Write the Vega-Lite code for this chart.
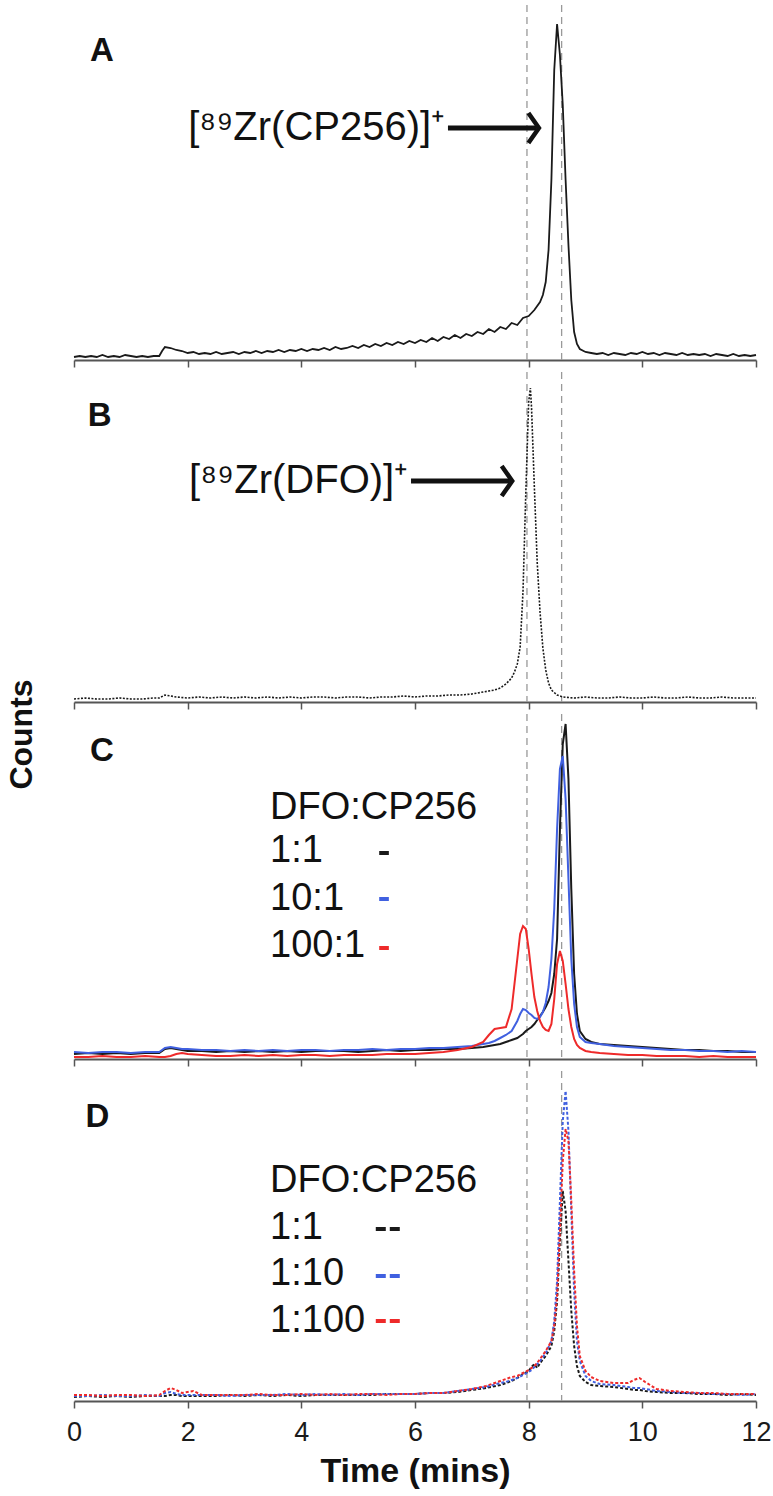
{
 "$schema": "https://vega.github.io/schema/vega-lite/v6.json",
 "padding": {"left": 5, "top": 4, "right": 5, "bottom": 5},
 "autosize": {"type": "pad"},
 "bounds": "flush",
 "spacing": 12,
 "background": "white",
 "resolve": {"scale": {"color": "independent", "y": "independent"}},
 "config": {"view": {"stroke": null}, "axis": {"grid": false}},
 "datasets": {
  "dash": [{"t": 7.97}, {"t": 8.58}],
  "A": [{"t":0,"v":3},{"t":0.1,"v":4},{"t":0.2,"v":3},{"t":0.3,"v":4},{"t":0.4,"v":3},{"t":0.5,"v":5},{"t":0.6,"v":3},{"t":0.7,"v":4},{"t":0.8,"v":3},{"t":0.9,"v":5},{"t":1.0,"v":4},{"t":1.1,"v":3},{"t":1.2,"v":4},{"t":1.3,"v":3},{"t":1.4,"v":4},{"t":1.5,"v":4},{"t":1.55,"v":9},{"t":1.6,"v":13},{"t":1.7,"v":12},{"t":1.8,"v":10},{"t":1.9,"v":9},{"t":2.0,"v":7},{"t":2.1,"v":8},{"t":2.2,"v":6},{"t":2.3,"v":7},{"t":2.4,"v":6},{"t":2.5,"v":8},{"t":2.6,"v":6},{"t":2.7,"v":7},{"t":2.8,"v":8},{"t":2.9,"v":6},{"t":3.0,"v":8},{"t":3.1,"v":7},{"t":3.2,"v":9},{"t":3.3,"v":7},{"t":3.4,"v":9},{"t":3.5,"v":8},{"t":3.6,"v":10},{"t":3.7,"v":8},{"t":3.8,"v":10},{"t":3.9,"v":9},{"t":4.0,"v":11},{"t":4.1,"v":9},{"t":4.2,"v":11},{"t":4.3,"v":10},{"t":4.4,"v":12},{"t":4.5,"v":10},{"t":4.6,"v":13},{"t":4.7,"v":11},{"t":4.8,"v":12},{"t":4.9,"v":14},{"t":5.0,"v":12},{"t":5.1,"v":15},{"t":5.2,"v":13},{"t":5.3,"v":16},{"t":5.4,"v":14},{"t":5.5,"v":17},{"t":5.6,"v":15},{"t":5.7,"v":18},{"t":5.8,"v":16},{"t":5.9,"v":19},{"t":6.0,"v":17},{"t":6.1,"v":20},{"t":6.2,"v":18},{"t":6.3,"v":22},{"t":6.4,"v":19},{"t":6.5,"v":23},{"t":6.6,"v":21},{"t":6.7,"v":25},{"t":6.8,"v":22},{"t":6.9,"v":26},{"t":7.0,"v":24},{"t":7.1,"v":28},{"t":7.2,"v":26},{"t":7.3,"v":31},{"t":7.4,"v":28},{"t":7.5,"v":33},{"t":7.6,"v":31},{"t":7.7,"v":37},{"t":7.8,"v":35},{"t":7.9,"v":42},{"t":8.0,"v":44},{"t":8.1,"v":50},{"t":8.2,"v":58},{"t":8.25,"v":65},{"t":8.3,"v":78},{"t":8.35,"v":110},{"t":8.4,"v":180},{"t":8.45,"v":290},{"t":8.5,"v":336},{"t":8.55,"v":305},{"t":8.6,"v":255},{"t":8.65,"v":180},{"t":8.7,"v":115},{"t":8.75,"v":60},{"t":8.8,"v":28},{"t":8.85,"v":16},{"t":8.9,"v":11},{"t":9.0,"v":8},{"t":9.1,"v":7},{"t":9.2,"v":6},{"t":9.3,"v":7},{"t":9.4,"v":5},{"t":9.5,"v":7},{"t":9.6,"v":6},{"t":9.7,"v":5},{"t":9.8,"v":7},{"t":9.9,"v":6},{"t":10.0,"v":8},{"t":10.1,"v":6},{"t":10.2,"v":7},{"t":10.3,"v":5},{"t":10.4,"v":7},{"t":10.5,"v":6},{"t":10.6,"v":5},{"t":10.7,"v":7},{"t":10.8,"v":5},{"t":10.9,"v":6},{"t":11.0,"v":5},{"t":11.1,"v":6},{"t":11.2,"v":4},{"t":11.3,"v":6},{"t":11.4,"v":5},{"t":11.5,"v":4},{"t":11.6,"v":6},{"t":11.7,"v":4},{"t":11.8,"v":5},{"t":11.9,"v":4},{"t":12.0,"v":5}],
  "B": [{"t":0,"v":3},{"t":0.2,"v":4},{"t":0.4,"v":3},{"t":0.6,"v":3},{"t":0.8,"v":4},{"t":1.0,"v":3},{"t":1.2,"v":3},{"t":1.4,"v":4},{"t":1.5,"v":4},{"t":1.6,"v":7},{"t":1.7,"v":6},{"t":1.8,"v":5},{"t":2.0,"v":4},{"t":2.2,"v":5},{"t":2.4,"v":4},{"t":2.6,"v":5},{"t":2.8,"v":4},{"t":3.0,"v":5},{"t":3.2,"v":4},{"t":3.4,"v":5},{"t":3.6,"v":4},{"t":3.8,"v":5},{"t":4.0,"v":4},{"t":4.2,"v":5},{"t":4.4,"v":5},{"t":4.6,"v":4},{"t":4.8,"v":5},{"t":5.0,"v":5},{"t":5.2,"v":4},{"t":5.4,"v":5},{"t":5.6,"v":5},{"t":5.8,"v":6},{"t":6.0,"v":5},{"t":6.2,"v":6},{"t":6.4,"v":6},{"t":6.6,"v":7},{"t":6.8,"v":7},{"t":7.0,"v":8},{"t":7.2,"v":10},{"t":7.4,"v":12},{"t":7.5,"v":14},{"t":7.6,"v":18},{"t":7.7,"v":24},{"t":7.75,"v":30},{"t":7.8,"v":38},{"t":7.85,"v":55},{"t":7.9,"v":110},{"t":7.95,"v":210},{"t":8.0,"v":300},{"t":8.03,"v":314},{"t":8.05,"v":295},{"t":8.1,"v":215},{"t":8.15,"v":140},{"t":8.2,"v":90},{"t":8.25,"v":54},{"t":8.3,"v":32},{"t":8.35,"v":19},{"t":8.4,"v":12},{"t":8.5,"v":7},{"t":8.6,"v":5},{"t":8.8,"v":4},{"t":9.0,"v":5},{"t":9.2,"v":4},{"t":9.4,"v":4},{"t":9.6,"v":5},{"t":9.8,"v":4},{"t":10.0,"v":4},{"t":10.2,"v":5},{"t":10.4,"v":4},{"t":10.6,"v":4},{"t":10.8,"v":5},{"t":11.0,"v":4},{"t":11.2,"v":4},{"t":11.4,"v":5},{"t":11.6,"v":4},{"t":11.8,"v":4},{"t":12.0,"v":4}],
  "C": [{"t":0,"k":5,"b":7,"r":2},{"t":0.25,"k":6,"b":6,"r":2},{"t":0.5,"k":5,"b":7,"r":3},{"t":0.75,"k":6,"b":7,"r":2},{"t":1.0,"k":5,"b":6,"r":2},{"t":1.25,"k":6,"b":7,"r":3},{"t":1.5,"k":6,"b":7,"r":2},{"t":1.6,"k":10,"b":11,"r":2},{"t":1.7,"k":11,"b":12,"r":3},{"t":1.8,"k":10,"b":11,"r":5},{"t":1.9,"k":9,"b":10,"r":6},{"t":2.0,"k":8,"b":10,"r":5},{"t":2.25,"k":8,"b":9,"r":4},{"t":2.5,"k":7,"b":9,"r":3},{"t":2.75,"k":8,"b":8,"r":3},{"t":3.0,"k":7,"b":9,"r":4},{"t":3.25,"k":8,"b":8,"r":3},{"t":3.5,"k":7,"b":9,"r":4},{"t":3.75,"k":8,"b":8,"r":3},{"t":4.0,"k":7,"b":9,"r":4},{"t":4.25,"k":8,"b":9,"r":4},{"t":4.5,"k":8,"b":8,"r":3},{"t":4.75,"k":8,"b":9,"r":4},{"t":5.0,"k":7,"b":9,"r":4},{"t":5.25,"k":8,"b":10,"r":4},{"t":5.5,"k":9,"b":9,"r":5},{"t":5.75,"k":8,"b":10,"r":5},{"t":6.0,"k":9,"b":10,"r":5},{"t":6.25,"k":9,"b":11,"r":6},{"t":6.5,"k":10,"b":11,"r":7},{"t":6.75,"k":10,"b":12,"r":9},{"t":7.0,"k":11,"b":13,"r":12},{"t":7.2,"k":12,"b":15,"r":17},{"t":7.3,"k":13,"b":16,"r":24},{"t":7.4,"k":14,"b":18,"r":30},{"t":7.5,"k":15,"b":21,"r":31},{"t":7.6,"k":17,"b":24,"r":32},{"t":7.7,"k":19,"b":28,"r":50},{"t":7.8,"k":21,"b":38,"r":100},{"t":7.85,"k":23,"b":45,"r":125},{"t":7.9,"k":25,"b":50,"r":133},{"t":7.95,"k":28,"b":49,"r":130},{"t":8.0,"k":30,"b":46,"r":110},{"t":8.05,"k":32,"b":44,"r":85},{"t":8.1,"k":35,"b":41,"r":62},{"t":8.15,"k":39,"b":40,"r":48},{"t":8.2,"k":43,"b":42,"r":38},{"t":8.25,"k":47,"b":47,"r":32},{"t":8.3,"k":52,"b":56,"r":29},{"t":8.35,"k":58,"b":72,"r":28},{"t":8.4,"k":66,"b":100,"r":35},{"t":8.45,"k":85,"b":150,"r":60},{"t":8.5,"k":120,"b":230,"r":95},{"t":8.55,"k":230,"b":290,"r":108},{"t":8.6,"k":315,"b":303,"r":98},{"t":8.65,"k":335,"b":260,"r":75},{"t":8.7,"k":280,"b":180,"r":50},{"t":8.75,"k":170,"b":100,"r":32},{"t":8.8,"k":85,"b":55,"r":20},{"t":8.85,"k":45,"b":32,"r":14},{"t":8.9,"k":28,"b":22,"r":11},{"t":9.0,"k":20,"b":17,"r":8},{"t":9.1,"k":17,"b":16,"r":7},{"t":9.25,"k":15,"b":15,"r":6},{"t":9.5,"k":14,"b":13,"r":5},{"t":9.75,"k":13,"b":12,"r":4},{"t":10.0,"k":12,"b":11,"r":4},{"t":10.25,"k":11,"b":10,"r":3},{"t":10.5,"k":10,"b":9,"r":3},{"t":10.75,"k":9,"b":9,"r":3},{"t":11.0,"k":9,"b":8,"r":2},{"t":11.25,"k":8,"b":8,"r":3},{"t":11.5,"k":8,"b":7,"r":2},{"t":11.75,"k":7,"b":8,"r":2},{"t":12.0,"k":7,"b":7,"r":2}],
  "D": [{"t":0,"k":4,"b":5,"r":6},{"t":0.25,"k":5,"b":5,"r":6},{"t":0.5,"k":4,"b":6,"r":5},{"t":0.75,"k":5,"b":5,"r":6},{"t":1.0,"k":4,"b":5,"r":6},{"t":1.25,"k":5,"b":6,"r":5},{"t":1.5,"k":5,"b":5,"r":6},{"t":1.6,"k":5,"b":8,"r":10},{"t":1.7,"k":6,"b":9,"r":13},{"t":1.8,"k":6,"b":7,"r":11},{"t":1.9,"k":5,"b":6,"r":8},{"t":2.0,"k":5,"b":6,"r":9},{"t":2.1,"k":5,"b":6,"r":10},{"t":2.25,"k":5,"b":6,"r":6},{"t":2.5,"k":5,"b":6,"r":6},{"t":2.75,"k":6,"b":5,"r":6},{"t":3.0,"k":5,"b":6,"r":6},{"t":3.25,"k":6,"b":6,"r":7},{"t":3.5,"k":5,"b":6,"r":6},{"t":3.75,"k":6,"b":7,"r":6},{"t":4.0,"k":5,"b":6,"r":7},{"t":4.25,"k":6,"b":7,"r":6},{"t":4.5,"k":6,"b":6,"r":7},{"t":4.75,"k":6,"b":7,"r":6},{"t":5.0,"k":6,"b":6,"r":7},{"t":5.25,"k":6,"b":7,"r":7},{"t":5.5,"k":7,"b":7,"r":6},{"t":5.75,"k":7,"b":7,"r":7},{"t":6.0,"k":7,"b":7,"r":7},{"t":6.25,"k":8,"b":8,"r":8},{"t":6.5,"k":8,"b":8,"r":8},{"t":6.75,"k":9,"b":10,"r":10},{"t":7.0,"k":11,"b":12,"r":12},{"t":7.25,"k":13,"b":14,"r":15},{"t":7.5,"k":16,"b":18,"r":20},{"t":7.6,"k":18,"b":19,"r":22},{"t":7.7,"k":20,"b":21,"r":24},{"t":7.8,"k":23,"b":23,"r":25},{"t":7.9,"k":27,"b":26,"r":28},{"t":8.0,"k":30,"b":29,"r":31},{"t":8.05,"k":34,"b":31,"r":33},{"t":8.1,"k":37,"b":34,"r":35},{"t":8.15,"k":33,"b":37,"r":38},{"t":8.2,"k":38,"b":40,"r":42},{"t":8.3,"k":45,"b":48,"r":50},{"t":8.4,"k":55,"b":60,"r":60},{"t":8.45,"k":70,"b":80,"r":75},{"t":8.5,"k":100,"b":120,"r":105},{"t":8.55,"k":160,"b":200,"r":170},{"t":8.6,"k":210,"b":280,"r":240},{"t":8.65,"k":190,"b":310,"r":272},{"t":8.7,"k":140,"b":270,"r":260},{"t":8.75,"k":90,"b":190,"r":200},{"t":8.8,"k":55,"b":110,"r":130},{"t":8.85,"k":35,"b":60,"r":75},{"t":8.9,"k":25,"b":40,"r":45},{"t":9.0,"k":19,"b":25,"r":30},{"t":9.1,"k":16,"b":20,"r":24},{"t":9.25,"k":15,"b":17,"r":20},{"t":9.5,"k":14,"b":16,"r":18},{"t":9.75,"k":12,"b":14,"r":18},{"t":9.85,"k":11,"b":13,"r":21},{"t":9.95,"k":11,"b":13,"r":23},{"t":10.05,"k":10,"b":12,"r":19},{"t":10.25,"k":9,"b":10,"r":12},{"t":10.5,"k":8,"b":9,"r":10},{"t":10.75,"k":8,"b":8,"r":9},{"t":11.0,"k":7,"b":8,"r":8},{"t":11.25,"k":7,"b":7,"r":8},{"t":11.5,"k":6,"b":7,"r":7},{"t":11.75,"k":7,"b":6,"r":7},{"t":12.0,"k":6,"b":7,"r":7}]
 },
 "vconcat": [
  {
   "width": 682, "height": 355,
   "encoding": {"x": {"field": "t", "type": "quantitative", "scale": {"domain": [0, 12], "nice": false}, "axis": {"values": [0,2,4,6,8,10,12], "labels": false, "title": null, "domainColor": "#555", "domainWidth": 2, "tickColor": "#555", "tickWidth": 1.5, "tickSize": 7}}},
   "layer": [
    {"data": {"name": "dash"}, "mark": {"type": "rule", "color": "#999", "strokeDash": [7, 5], "strokeWidth": 1.3}, "encoding": {}},
    {"data": {"name": "A"}, "mark": {"type": "line", "color": "#1a1a1a", "strokeWidth": 1.8}, "encoding": {"y": {"field": "v", "type": "quantitative", "scale": {"domain": [0, 355], "nice": false}, "axis": null}}},
    {"data": {"values": [{"t": 0.49, "v": 309, "label": "A"}]}, "mark": {"type": "text", "font": "Liberation Sans", "fontSize": 33, "fontWeight": "bold", "align": "center", "baseline": "middle", "color": "#111"}, "encoding": {"y": {"field": "v", "type": "quantitative", "scale": {"domain": [0, 355], "nice": false}, "axis": null}, "text": {"field": "label"}}},
    {"data": {"values": [{"t": 6.53, "v": 232, "label": "[⁸⁹Zr(CP256)]⁺"}]}, "mark": {"type": "text", "font": "Liberation Sans", "fontSize": 40, "align": "right", "baseline": "middle", "color": "#111"}, "encoding": {"y": {"field": "v", "type": "quantitative", "scale": {"domain": [0, 355], "nice": false}, "axis": null}, "text": {"field": "label"}}},
    {"data": {"values": [{"t": 6.58, "t2": 8.14, "v": 232}]}, "mark": {"type": "rule", "color": "#111", "strokeWidth": 5}, "encoding": {"x2": {"field": "t2"}, "y": {"field": "v", "type": "quantitative", "scale": {"domain": [0, 355], "nice": false}, "axis": null}}},
    {"data": {"values": [{"t": 8.18, "v": 232}]}, "mark": {"type": "point", "shape": "M-0.7,-1L0,0L-0.7,1", "filled": false, "size": 900, "strokeWidth": 4.5, "color": "#111", "opacity": 1}, "encoding": {"y": {"field": "v", "type": "quantitative", "scale": {"domain": [0, 355], "nice": false}, "axis": null}}}
   ]
  },
  {
   "width": 682, "height": 330,
   "encoding": {"x": {"field": "t", "type": "quantitative", "scale": {"domain": [0, 12], "nice": false}, "axis": {"values": [0,2,4,6,8,10,12], "labels": false, "title": null, "domainColor": "#555", "domainWidth": 2, "tickColor": "#555", "tickWidth": 1.5, "tickSize": 7}}},
   "layer": [
    {"data": {"name": "dash"}, "mark": {"type": "rule", "color": "#999", "strokeDash": [7, 5], "strokeWidth": 1.3}, "encoding": {}},
    {"data": {"name": "B"}, "mark": {"type": "line", "color": "#1a1a1a", "strokeWidth": 1.6, "strokeDash": [2, 1.5]}, "encoding": {"y": {"field": "v", "type": "quantitative", "scale": {"domain": [0, 330], "nice": false}, "axis": {"title": "Counts", "labels": false, "ticks": false, "domain": false, "grid": false, "titleFont": "Liberation Sans", "titleFontSize": 32, "titleFontWeight": "bold", "titleColor": "#111", "titlePadding": 36, "titleY": 362}}}},
    {"data": {"values": [{"t": 0.45, "v": 286, "label": "B"}]}, "mark": {"type": "text", "font": "Liberation Sans", "fontSize": 33, "fontWeight": "bold", "align": "center", "baseline": "middle", "color": "#111"}, "encoding": {"y": {"field": "v", "type": "quantitative", "scale": {"domain": [0, 330], "nice": false}}, "text": {"field": "label"}}},
    {"data": {"values": [{"t": 5.88, "v": 221, "label": "[⁸⁹Zr(DFO)]⁺"}]}, "mark": {"type": "text", "font": "Liberation Sans", "fontSize": 40, "align": "right", "baseline": "middle", "color": "#111"}, "encoding": {"y": {"field": "v", "type": "quantitative", "scale": {"domain": [0, 330], "nice": false}}, "text": {"field": "label"}}},
    {"data": {"values": [{"t": 5.93, "t2": 7.67, "v": 221}]}, "mark": {"type": "rule", "color": "#111", "strokeWidth": 5}, "encoding": {"x2": {"field": "t2"}, "y": {"field": "v", "type": "quantitative", "scale": {"domain": [0, 330], "nice": false}}}},
    {"data": {"values": [{"t": 7.71, "v": 221}]}, "mark": {"type": "point", "shape": "M-0.7,-1L0,0L-0.7,1", "filled": false, "size": 900, "strokeWidth": 4.5, "color": "#111", "opacity": 1}, "encoding": {"y": {"field": "v", "type": "quantitative", "scale": {"domain": [0, 330], "nice": false}}}}
   ]
  },
  {
   "width": 682, "height": 345,
   "encoding": {"x": {"field": "t", "type": "quantitative", "scale": {"domain": [0, 12], "nice": false}, "axis": {"values": [0,2,4,6,8,10,12], "labels": false, "title": null, "domainColor": "#555", "domainWidth": 2, "tickColor": "#555", "tickWidth": 1.5, "tickSize": 7}}},
   "layer": [
    {"data": {"name": "dash"}, "mark": {"type": "rule", "color": "#999", "strokeDash": [7, 5], "strokeWidth": 1.3}, "encoding": {}},
    {"data": {"name": "C"}, "mark": {"type": "line", "color": "#1a1a1a", "strokeWidth": 2}, "encoding": {"y": {"field": "k", "type": "quantitative", "scale": {"domain": [0, 345], "nice": false}, "axis": null}}},
    {"data": {"name": "C"}, "mark": {"type": "line", "color": "#4060e0", "strokeWidth": 2}, "encoding": {"y": {"field": "b", "type": "quantitative", "scale": {"domain": [0, 345], "nice": false}, "axis": null}}},
    {"data": {"name": "C"}, "mark": {"type": "line", "color": "#ee2a2a", "strokeWidth": 2}, "encoding": {"y": {"field": "r", "type": "quantitative", "scale": {"domain": [0, 345], "nice": false}, "axis": null}}},
    {"data": {"values": [{"t": 0.49, "v": 308, "label": "C"}]}, "mark": {"type": "text", "font": "Liberation Sans", "fontSize": 33, "fontWeight": "bold", "align": "center", "baseline": "middle", "color": "#111"}, "encoding": {"y": {"field": "v", "type": "quantitative", "scale": {"domain": [0, 345], "nice": false}, "axis": null}, "text": {"field": "label"}}},
    {"data": {"values": [{"t": 3.45, "v": 251, "label": "DFO:CP256"}, {"t": 3.45, "v": 208, "label": "1:1"}, {"t": 3.45, "v": 160, "label": "10:1"}, {"t": 3.45, "v": 113, "label": "100:1"}]}, "mark": {"type": "text", "font": "Liberation Sans", "fontSize": 38, "align": "left", "baseline": "middle", "color": "#111"}, "encoding": {"y": {"field": "v", "type": "quantitative", "scale": {"domain": [0, 345], "nice": false}, "axis": null}, "text": {"field": "label"}}},
    {"data": {"values": [{"s": "1:1", "t": 5.37, "t2": 5.54, "v": 206}, {"s": "10:1", "t": 5.37, "t2": 5.54, "v": 160}, {"s": "100:1", "t": 5.37, "t2": 5.54, "v": 111}]}, "mark": {"type": "rule", "strokeWidth": 4}, "encoding": {"x2": {"field": "t2"}, "y": {"field": "v", "type": "quantitative", "scale": {"domain": [0, 345], "nice": false}, "axis": null}, "color": {"field": "s", "type": "nominal", "scale": {"domain": ["1:1", "10:1", "100:1"], "range": ["#1a1a1a", "#4060e0", "#ee2a2a"]}, "legend": null}}}
   ]
  },
  {
   "width": 682, "height": 330,
   "encoding": {"x": {"field": "t", "type": "quantitative", "scale": {"domain": [0, 12], "nice": false}, "axis": {"values": [0,2,4,6,8,10,12], "labels": true, "labelFlush": false, "labelFont": "Liberation Sans", "labelFontSize": 27, "labelColor": "#1a1a1a", "labelPadding": 11, "title": "Time (mins)", "titleFont": "Liberation Sans", "titleFontSize": 34, "titleFontWeight": "bold", "titleColor": "#111", "titlePadding": 9, "domainColor": "#555", "domainWidth": 2, "tickColor": "#555", "tickWidth": 1.5, "tickSize": 7}}},
   "layer": [
    {"data": {"name": "dash"}, "mark": {"type": "rule", "color": "#999", "strokeDash": [7, 5], "strokeWidth": 1.3}, "encoding": {}},
    {"data": {"name": "D"}, "mark": {"type": "line", "color": "#1a1a1a", "strokeWidth": 2, "strokeDash": [3, 2]}, "encoding": {"y": {"field": "k", "type": "quantitative", "scale": {"domain": [0, 330], "nice": false}, "axis": null}}},
    {"data": {"name": "D"}, "mark": {"type": "line", "color": "#4060e0", "strokeWidth": 2, "strokeDash": [3, 2]}, "encoding": {"y": {"field": "b", "type": "quantitative", "scale": {"domain": [0, 330], "nice": false}, "axis": null}}},
    {"data": {"name": "D"}, "mark": {"type": "line", "color": "#ee2a2a", "strokeWidth": 2, "strokeDash": [3, 2]}, "encoding": {"y": {"field": "r", "type": "quantitative", "scale": {"domain": [0, 330], "nice": false}, "axis": null}}},
    {"data": {"values": [{"t": 0.41, "v": 284, "label": "D"}]}, "mark": {"type": "text", "font": "Liberation Sans", "fontSize": 33, "fontWeight": "bold", "align": "center", "baseline": "middle", "color": "#111"}, "encoding": {"y": {"field": "v", "type": "quantitative", "scale": {"domain": [0, 330], "nice": false}, "axis": null}, "text": {"field": "label"}}},
    {"data": {"values": [{"t": 3.45, "v": 220, "label": "DFO:CP256"}, {"t": 3.45, "v": 173, "label": "1:1"}, {"t": 3.45, "v": 127, "label": "1:10"}, {"t": 3.45, "v": 80, "label": "1:100"}]}, "mark": {"type": "text", "font": "Liberation Sans", "fontSize": 38, "align": "left", "baseline": "middle", "color": "#111"}, "encoding": {"y": {"field": "v", "type": "quantitative", "scale": {"domain": [0, 330], "nice": false}, "axis": null}, "text": {"field": "label"}}},
    {"data": {"values": [{"s": "1:1", "t": 5.31, "t2": 5.75, "v": 172}, {"s": "1:10", "t": 5.31, "t2": 5.75, "v": 125}, {"s": "1:100", "t": 5.31, "t2": 5.75, "v": 80}]}, "mark": {"type": "rule", "strokeWidth": 4, "strokeDash": [10, 4]}, "encoding": {"x2": {"field": "t2"}, "y": {"field": "v", "type": "quantitative", "scale": {"domain": [0, 330], "nice": false}, "axis": null}, "color": {"field": "s", "type": "nominal", "scale": {"domain": ["1:1", "1:10", "1:100"], "range": ["#1a1a1a", "#4060e0", "#ee2a2a"]}, "legend": null}}}
   ]
  }
 ]
}
